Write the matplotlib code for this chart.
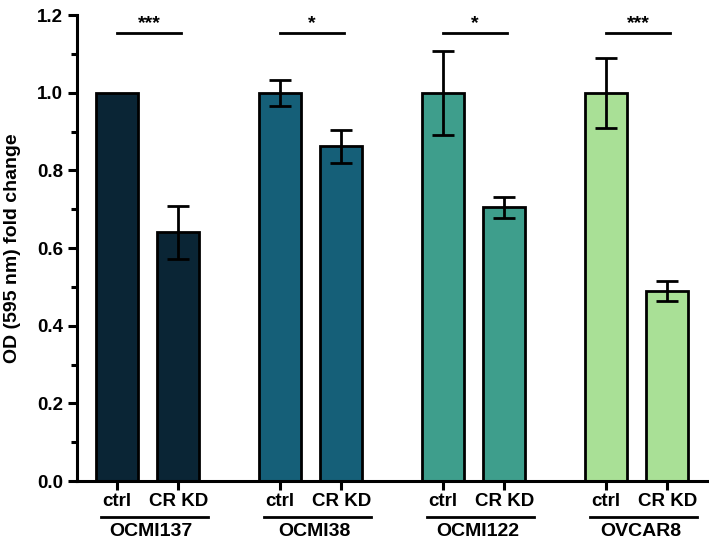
import matplotlib
matplotlib.use("Agg")
import matplotlib.pyplot as plt
import numpy as np
from matplotlib.ticker import MultipleLocator
import matplotlib.transforms as mtransforms

plt.rcParams['font.family'] = ['Liberation Sans', 'DejaVu Sans']
plt.rcParams['font.weight'] = 'bold'

groups = ["OCMI137", "OCMI38", "OCMI122", "OVCAR8"]
conditions = ["ctrl", "CR KD"]
ctrl_vals = [1.0, 1.0, 1.0, 1.0]
ctrl_err = [0.0, 0.033, 0.108, 0.09]
kd_vals = [0.64, 0.862, 0.705, 0.49]
kd_err = [0.068, 0.042, 0.027, 0.026]
stars = ["***", "*", "*", "***"]
colors = ["#0a2535", "#155f78", "#3e9e8c", "#a9e096"]
yticks = [0.0, 0.2, 0.4, 0.6, 0.8, 1.0, 1.2]

fig = plt.figure(figsize=(7.09, 5.48), dpi=100)
ax = fig.add_axes([0.1086, 0.1222, 0.8904, 0.8504])

gap = 2.667
width = 0.69
for i, g in enumerate(groups):
    x0 = i * gap
    xs = [x0, x0 + 1]
    vals = [ctrl_vals[i], kd_vals[i]]
    errs = [ctrl_err[i], kd_err[i]]
    ax.bar(xs, vals, width=width, color=colors[i], edgecolor="black", linewidth=2.0, zorder=2)
    for x, v, e in zip(xs, vals, errs):
        if e > 0:
            ax.errorbar(x, v, yerr=e, fmt="none", ecolor="black", elinewidth=2.0,
                        capsize=8, capthick=2.0, zorder=3)
    ax.plot([x0 - 0.0, x0 + 1.05], [1.154, 1.154], color="black", lw=2.0, clip_on=False)
    ax.text(x0 + 0.525, 1.156, stars[i], ha="center", va="bottom", fontsize=14, fontweight="bold")

ticks = []
labels = []
for i in range(len(groups)):
    ticks += [i * gap, i * gap + 1]
    labels += conditions
ax.set_xticks(ticks)
ax.set_xticklabels(labels, fontsize=13.5, fontweight="bold")
ax.set_xlim(-0.656, 3 * gap + 1 + 0.67)
ax.set_ylim(0, 1.2)
ax.set_yticks(yticks)
ax.set_yticklabels([f"{v:.1f}" for v in yticks], fontsize=13.5, fontweight="bold")
ax.yaxis.set_minor_locator(MultipleLocator(0.1))
ax.set_ylabel("OD (595 nm) fold change", fontsize=14, fontweight="bold")
ax.yaxis.set_label_coords(-0.089, 0.5)

for s in ["top", "right"]:
    ax.spines[s].set_visible(False)
for s in ["left", "bottom"]:
    ax.spines[s].set_linewidth(2.2)
ax.tick_params(axis="both", which="major", length=6.5, width=2.2, pad=3.5)
ax.tick_params(axis="y", which="minor", length=4, width=2.2)
ax.tick_params(axis="x", pad=2)

trans = mtransforms.blended_transform_factory(ax.transData, ax.transAxes)
for i, g in enumerate(groups):
    x0 = i * gap
    ax.plot([x0 - 0.26, x0 + 1.49], [-0.0773, -0.0773], color="black", lw=2.0,
            transform=trans, clip_on=False)
    ax.text(x0 + 0.56, -0.09, g, transform=trans, ha="center", va="top",
            fontsize=14, fontweight="bold")

fig.savefig("out.png", dpi=100)
